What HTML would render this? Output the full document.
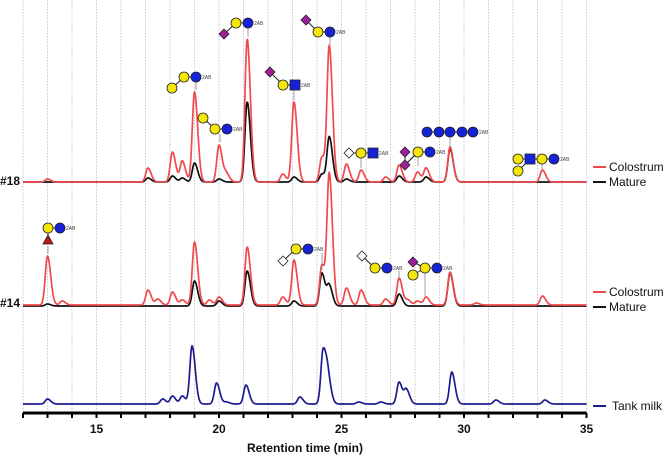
<!DOCTYPE html>
<html><head><meta charset="utf-8">
<style>
html,body{margin:0;padding:0;background:#fff;}
svg{display:block;font-family:"Liberation Sans",Arial,sans-serif;}
</style></head>
<body>
<svg id="chart" width="666" height="456" viewBox="0 0 666 456">
  <g id="grid"></g>
  <g id="series"></g>
  <g id="glycans"></g>
  <g id="axis"></g>
  <text x="0" y="185" font-size="12" font-weight="bold" fill="#111">#18</text>
  <text x="0" y="307" font-size="12" font-weight="bold" fill="#111">#14</text>
  <text x="305" y="452" font-size="12" font-weight="bold" text-anchor="middle" fill="#111">Retention time (min)</text>
  <g><line x1="593" y1="167" x2="606" y2="167" stroke="#f04a4c" stroke-width="2"/><text x="609" y="171" font-size="12" fill="#111">Colostrum</text></g>
  <g><line x1="593" y1="182" x2="606" y2="182" stroke="#111" stroke-width="2"/><text x="609" y="186" font-size="12" fill="#111">Mature</text></g>
  <g><line x1="593" y1="292" x2="606" y2="292" stroke="#f04a4c" stroke-width="2"/><text x="609" y="296" font-size="12" fill="#111">Colostrum</text></g>
  <g><line x1="593" y1="307" x2="606" y2="307" stroke="#111" stroke-width="2"/><text x="609" y="311" font-size="12" fill="#111">Mature</text></g>
  <g><line x1="593" y1="406" x2="606" y2="406" stroke="#1c1c8e" stroke-width="2"/><text x="612" y="410" font-size="12" fill="#111">Tank milk</text></g>
</svg>
<script>
// ---- data ----
const xTicks = [12,13,14,15,16,17,18,19,20,21,22,23,24,25,26,27,28,29,30,31,32,33,34,35];
const xTickLabels = [15,20,25,30,35];

const col18Times   = [13.0,17.1,18.1,18.5,19.0,20.0,20.3,21.15,22.6,23.06,24.2,24.5,25.2,25.8,26.8,27.35,28.1,28.45,29.43,33.2];
const col18Heights = [3,14,30,21,90,37,8,143,8,80,25,135,18,12,5,17,10,14,35,12];
const mat18Times   = [17.1,18.1,18.5,19.0,20.0,21.15,23.06,24.2,24.5,25.2,27.35,28.45,29.43];
const mat18Heights = [4,6,4,19,3,80,5,8,45,3,6,5,33];

const col14Times   = [13.0,13.6,17.1,17.5,18.1,18.5,19.0,19.6,20.0,21.15,22.6,23.06,24.2,24.5,25.2,25.8,26.8,27.35,27.7,28.1,28.45,29.43,30.5,33.2];
const col14Heights = [49,4,15,6,13,5,63,5,8,58,8,45,40,130,17,15,6,27,5,4,8,33,2,9];
const mat14Times   = [13.0,19.0,20.0,21.15,23.06,24.2,24.5,27.35,29.43];
const mat14Heights = [2,25,5,35,5,33,20,12,33];

const tankTimes   = [13.0,17.7,18.1,18.5,18.9,19.9,20.3,21.1,23.3,24.25,24.45,25.7,26.6,27.35,27.65,29.5,31.3,33.3];
const tankHeights = [5,5,8,8,58,21,2,19,7,54,22,2,2,22,14,32,4,4];

// ---- scales ----
const X0 = 23, PX = 24.5;
function xs(t){ return X0 + (t - 12) * PX; }
const NS='http://www.w3.org/2000/svg';
function mk(tag, attrs, parent){ const e=document.createElementNS(NS,tag); for(const k in attrs) e.setAttribute(k,attrs[k]); parent.appendChild(e); return e; }

// grid
const grid=document.getElementById('grid');
xTicks.forEach(t=>{
  const l=mk('line',{x1:xs(t),x2:xs(t),y1:0,y2:413,stroke:'#c8c8c8','stroke-width':1,'stroke-dasharray':'1.5,1.5'},grid);
  
  
});

// axis
const ax=document.getElementById('axis');
const al=mk('line',{x1:xs(12),x2:xs(35),y1:413,y2:413,stroke:'#000','stroke-width':3},ax);


xTicks.forEach(t=>{
  const tk=mk('line',{x1:xs(t),x2:xs(t),y1:413,y2:418,stroke:'#000','stroke-width':2},ax);
  
  
});
xTickLabels.forEach(v=>{
  const tx=mk('text',{x:xs(v),y:433,'text-anchor':'middle','font-size':12,'font-weight':'bold',fill:'#111'},ax);
  tx.textContent=v;
  
  
});

// series
const ser=document.getElementById('series');
function curve(times,heights,base,color,name,w){
  let d='';
  for(let t=12;t<=35.0001;t+=0.02){
    let y=0;
    for(let i=0;i<times.length;i++){
      const dt=t-times[i];
      const s= dt>0?0.13:0.09;
      y+=heights[i]*Math.exp(-dt*dt/(2*s*s));
    }
    d+=(d?'L':'M')+xs(t).toFixed(2)+','+(base-y).toFixed(2);
  }
  const p=mk('path',{d:d,fill:'none',stroke:color,'stroke-width':w,'stroke-linejoin':'round'},ser);
  
  
}
curve(mat18Times,mat18Heights,182,'#111','series-18-mature',1.7);
curve(col18Times,col18Heights,182,'#f04a4c','series-18-colostrum',1.7);
curve(mat14Times,mat14Heights,306,'#111','series-14-mature',1.7);
curve(col14Times,col14Heights,305,'#f04a4c','series-14-colostrum',1.7);
curve(tankTimes,tankHeights,404,'#1c1c8e','series-tank-milk',1.7);

// glycans
const gl=document.getElementById('glycans');
const groups=[
 {n:[['Y',172,88],['Y',184,77],['B',196,77]],lab:[201,79],stem:[196,82,90]},
 {n:[['Y',203,118],['Y',215,129],['B',227,129]],lab:[232,131],stem:[220,134,142]},
 {n:[['D',224,34],['Y',236,23],['B',248,23]],lab:[253,25],stem:[248,28,37]},
 {n:[['D',270,72],['Y',283,85],['S',295,85]],lab:[300,87],stem:[294,90,100]},
 {n:[['D',306,20],['Y',318,32],['B',330,32]],lab:[335,34],stem:[330,37,45]},
 {n:[['W',349,153],['Y',361,153],['S',373,153]],lab:[378,155],stem:[361,158,168]},
 {n:[['D',405,152],['D',405,165],['Y',418,152],['B',430,152]],lab:[435,154],stem:[418,157,166],links:[[405,165,418,152]]},
 {n:[['B',427,132],['B',439,132],['B',450,132],['B',462,132],['B',473,132]],lab:[478,134],stem:[450,137,147]},
 {n:[['Y',518,159],['S',530,159],['Y',542,159],['B',554,159],['Y',518,171]],lab:[559,161],stem:[542,164,170],links:[[518,171,530,159]]},
 {n:[['Y',48,228],['B',60,228],['T',48,240]],lab:[65,230],stem:[48,246,254],links:[[48,228,48,240]]},
 {n:[['W',283,261],['Y',296,249],['B',308,249]],lab:[313,251],stem:[322,253,270]},
 {n:[['W',362,256],['Y',375,268],['B',387,268]],lab:[392,270],stem:[399,271,278]},
 {n:[['D',413,262],['Y',425,268],['B',437,268],['Y',413,275]],lab:[442,270],stem:[425,273,296],links:[[413,275,425,268]]}
];
groups.forEach((g,gi)=>{
  const G=mk('g',{},gl);
  
  
  mk('line',{x1:g.stem[0],x2:g.stem[0],y1:g.stem[1],y2:g.stem[2],stroke:'#888','stroke-width':0.8},G);
  const chain=g.n.filter((e,i)=>!(g.links&&i===g.n.length-1&&g.n.length>3&&(e[0]==='Y'&&e[2]!==g.n[g.n.length-2][2])));
  for(let i=0;i<chain.length-1;i++){
    if(chain[i][0]==='T') continue;
    if(chain[i+1][0]==='T') continue;
    mk('line',{x1:chain[i][1],y1:chain[i][2],x2:chain[i+1][1],y2:chain[i+1][2],stroke:'#222','stroke-width':1},G);
  }
  (g.links||[]).forEach(l=>mk('line',{x1:l[0],y1:l[1],x2:l[2],y2:l[3],stroke:'#222','stroke-width':1},G));
  const last=g.n.filter(e=>e[0]==='B'||e[0]==='S').pop();
  mk('line',{x1:last[1],y1:last[2],x2:g.lab[0],y2:last[2],stroke:'#222','stroke-width':1},G);
  g.n.forEach(e=>{
    const [k,x,y]=e;
    if(k==='Y') mk('circle',{cx:x,cy:y,r:5,fill:'#f5e60a',stroke:'#222','stroke-width':0.8},G);
    else if(k==='B') mk('circle',{cx:x,cy:y,r:5,fill:'#1522d8',stroke:'#222','stroke-width':0.8},G);
    else if(k==='S') mk('rect',{x:x-5,y:y-5,width:10,height:10,fill:'#1522d8',stroke:'#222','stroke-width':0.8},G);
    else if(k==='D') mk('polygon',{points:`${x},${y-5} ${x+5},${y} ${x},${y+5} ${x-5},${y}`,fill:'#a0209c',stroke:'#222','stroke-width':0.8},G);
    else if(k==='W') mk('polygon',{points:`${x},${y-5} ${x+5},${y} ${x},${y+5} ${x-5},${y}`,fill:'#fff',stroke:'#222','stroke-width':0.8},G);
    else if(k==='T') mk('polygon',{points:`${x},${y-5} ${x+5},${y+4} ${x-5},${y+4}`,fill:'#c0161a',stroke:'#222','stroke-width':0.8},G);
  });
  const tx=mk('text',{x:g.lab[0]+1,y:g.lab[1],'font-size':5,fill:'#444'},G);
  tx.textContent='2AB';
});
</script>
</body></html>
